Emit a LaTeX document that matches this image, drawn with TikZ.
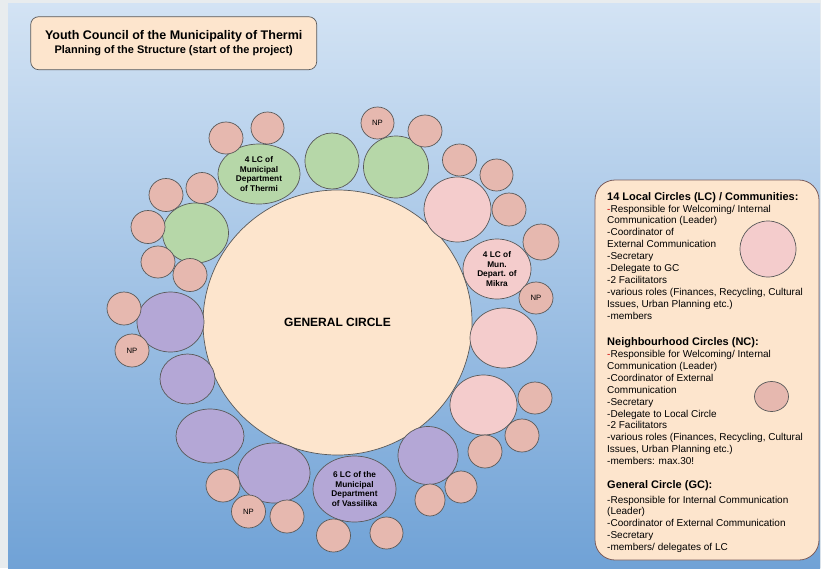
\documentclass[tikz,border=0pt]{standalone}
\usepackage{fontspec}
\setmainfont{Liberation Sans}
\usetikzlibrary{shapes.geometric}
\definecolor{bgTop}{HTML}{D3E3F4}
\definecolor{bgBot}{HTML}{70A2D6}
\definecolor{frameGray}{HTML}{E8ECEE}
\definecolor{peach}{HTML}{FDE5CD}
\definecolor{lineGray}{HTML}{595959}
\definecolor{greenC}{HTML}{B6D7A8}
\definecolor{pinkC}{HTML}{F4CCCC}
\definecolor{salmonC}{HTML}{E6B8AF}
\definecolor{purpleC}{HTML}{B4A7D6}
\definecolor{legBorder}{HTML}{7A5C5C}
\definecolor{dashRed}{HTML}{CC0000}
\tikzset{
  circbase/.style={ellipse, draw=lineGray, line width=0.7pt, inner sep=0pt, align=center},
  sz/.style 2 args={minimum width=2*#1, minimum height=2*#2},
  grn/.style={circbase, fill=greenC},
  pnk/.style={circbase, fill=pinkC},
  sal/.style={circbase, fill=salmonC},
  pur/.style={circbase, fill=purpleC},
  gen/.style={circbase, fill=peach},
  lctext/.style={font=\fontsize{8.3}{9.7}\selectfont\bfseries},
  nptext/.style={font=\fontsize{7.7}{9}\selectfont},
  legtext/.style={anchor=north west, align=left, inner sep=0pt, font=\fontsize{10}{11.9}\selectfont},
}
\newcommand{\hd}[1]{{\fontsize{11}{11.9}\selectfont\bfseries #1}}
\newcommand{\rd}{{\color{dashRed}-}}
\begin{document}
\begin{tikzpicture}[x=1pt, y=-1pt]
\useasboundingbox (0,0) rectangle (821,568);
\fill[frameGray] (0,0) rectangle (821,568);
\shade[top color=bgTop, bottom color=bgBot] (8,3) rectangle (820,568);

% title
\node[draw=lineGray, fill=peach, line width=0.7pt, rounded corners=8pt, minimum width=286, minimum height=53, align=center, inner sep=0pt] (title) at (173.7,43.2)
  {{\fontsize{12.5}{15}\selectfont\bfseries Youth Council of the Municipality of Thermi}\\[1.5pt]
   {\fontsize{11}{15}\selectfont\bfseries Planning of the Structure (start of the project)}};

% general circle
\node[gen, sz={134.5}{132.5}, font=\fontsize{12}{14}\selectfont\bfseries] (general) at (337.5,322.5) {GENERAL CIRCLE};

% green LCs
\node[grn, sz={41}{30}, lctext] (g1) at (259,174) {4 LC of\\Municipal\\Department\\of Thermi};
\node[grn, sz={27}{28}] (g2) at (332,161) {};
\node[grn, sz={32.5}{31}] (g3) at (396,167) {};
\node[grn, sz={33}{30}] (g4) at (195.5,233) {};

% pink LCs
\node[pnk, sz={33.5}{32.5}] (p1) at (457.5,209.5) {};
\node[pnk, sz={34}{30}, lctext] (p2) at (497,269) {4 LC of\\Mun.\\Depart. of\\Mikra};
\node[pnk, sz={33.5}{30}] (p3) at (503.5,338) {};
\node[pnk, sz={33.5}{30}] (p4) at (483.5,405) {};

% purple LCs
\node[pur, sz={33.5}{30}] (u1) at (170.5,322) {};
\node[pur, sz={27.5}{25}] (u2) at (187.5,379) {};
\node[pur, sz={34}{27}] (u3) at (210,436) {};
\node[pur, sz={36}{30}] (u4) at (274,473) {};
\node[pur, sz={41.5}{33}, lctext] (u5) at (354.5,489) {6 LC of the\\Municipal\\Department\\of Vassilika};
\node[pur, sz={30}{29}] (u6) at (428,455.5) {};

% neighbourhood circles
\node[sal, sz={17}{16}] (s1) at (226,138) {};
\node[sal, sz={16.5}{16}] (s2) at (267.5,128) {};
\node[sal, sz={16.5}{16}, nptext] (s3) at (377.5,123) {NP};
\node[sal, sz={17}{16}] (s4) at (425,131) {};
\node[sal, sz={17}{16}] (s5) at (459.5,160) {};
\node[sal, sz={16.5}{16}] (s6) at (496.5,175) {};
\node[sal, sz={17}{16.5}] (s7) at (509,209.5) {};
\node[sal, sz={18}{18}] (s8) at (541,242) {};
\node[sal, sz={17}{16}, nptext] (s9) at (536,298) {NP};
\node[sal, sz={17}{16}] (s10) at (535,398) {};
\node[sal, sz={17}{16.5}] (s11) at (522,435.5) {};
\node[sal, sz={17}{16.5}] (s12) at (485,451.5) {};
\node[sal, sz={16}{16}] (s13) at (461,487) {};
\node[sal, sz={15}{16}] (s14) at (430,500) {};
\node[sal, sz={16.5}{16}] (s15) at (386.5,533) {};
\node[sal, sz={17}{16.5}] (s16) at (333.5,535.5) {};
\node[sal, sz={17}{16.5}] (s17) at (287,516.5) {};
\node[sal, sz={17}{16.5}, nptext] (s18) at (248.5,511.5) {NP};
\node[sal, sz={17}{16.5}] (s19) at (223,485.5) {};
\node[sal, sz={17}{16.5}, nptext] (s20) at (132,350.5) {NP};
\node[sal, sz={17}{16.5}] (s21) at (124,308.5) {};
\node[sal, sz={17}{16.5}] (s22) at (190,275) {};
\node[sal, sz={17}{16}] (s23) at (158,262) {};
\node[sal, sz={17}{16.5}] (s24) at (148,227) {};
\node[sal, sz={17}{16.5}] (s25) at (166,195) {};
\node[sal, sz={16}{15.5}] (s26) at (202,188) {};

% legend
\node[draw=legBorder, fill=peach, line width=0.8pt, rounded corners=20pt, minimum width=224, minimum height=380, inner sep=0pt] (legend) at (707,370) {};
\node[pnk, sz={28}{28}] (lg1) at (768,249) {};
\node[sal, sz={17}{15}] (lg2) at (771.5,396.5) {};

\node[legtext] (leglc) at (607,192) {\hd{14 Local Circles (LC) / Communities:}\\
\rd Responsible for Welcoming/ Internal\\
Communication (Leader)\\
-Coordinator of\\
External Communication\\
-Secretary\\
-Delegate to GC\\
-2 Facilitators\\
-various roles (Finances, Recycling, Cultural\\
Issues, Urban Planning etc.)\\
-members};

\node[legtext] (legnc) at (607,337.5) {\hd{Neighbourhood Circles (NC):}\\
\rd Responsible for Welcoming/ Internal\\
Communication (Leader)\\
-Coordinator of External\\
Communication\\
-Secretary\\
-Delegate to Local Circle\\
-2 Facilitators\\
-various roles (Finances, Recycling, Cultural\\
Issues, Urban Planning etc.)\\
-members: max.30!};

\node[legtext] (leggc) at (607,480.5) {\hd{General Circle (GC):}\\[2.5pt]
-Responsible for Internal Communication\\
(Leader)\\
-Coordinator of External Communication\\
-Secretary\\
-members/ delegates of LC};
\end{tikzpicture}
\end{document}
